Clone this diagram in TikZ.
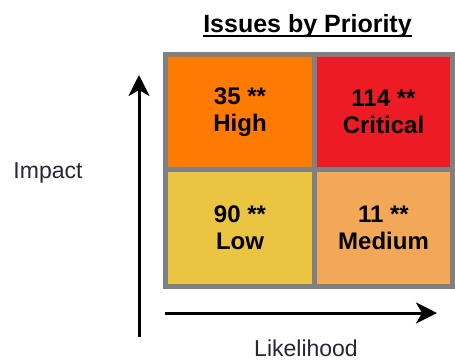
\documentclass[tikz,border=0pt]{standalone}
\usepackage{fontspec}
\setmainfont{Liberation Sans}
\usetikzlibrary{arrows.meta,calc}
\definecolor{cHigh}{RGB}{255,122,0}
\definecolor{cCrit}{RGB}{237,27,36}
\definecolor{cLow}{RGB}{235,196,65}
\definecolor{cMed}{RGB}{243,168,87}
\definecolor{cBorder}{RGB}{128,128,128}
\definecolor{cLabel}{RGB}{38,38,52}
\tikzset{
  cell/.style={draw=cBorder, line width=5pt, inner sep=0pt, align=center,
    font=\bfseries\fontsize{24}{27}\selectfont, text=black},
  axislbl/.style={inner sep=0pt, anchor=base, text=cLabel, font=\fontsize{23}{27}\selectfont},
  axisarrow/.style={line width=3pt, -{Stealth[length=21pt,width=21pt,inset=6pt]}}
}
\begin{document}
\begin{tikzpicture}[x=1pt,y=-1pt]
\useasboundingbox (0,0) rectangle (455,360);
% cells
\node[cell, fill=cHigh, minimum width=149pt, minimum height=115pt] (high) at (240,112) {\raisebox{-3pt}{35 **}\\\raisebox{-3pt}{High}};
\node[cell, fill=cCrit, minimum width=138pt, minimum height=115pt] (crit) at (383.5,112) {\raisebox{-3pt}{114 **}\\\raisebox{-3pt}{Critical}};
\node[cell, fill=cLow, minimum width=149pt, minimum height=116.5pt] (low) at (240,227.75) {\raisebox{-3pt}{90 **}\\\raisebox{-3pt}{Low}};
\node[cell, fill=cMed, minimum width=138pt, minimum height=116.5pt] (med) at (383.5,227.75) {\raisebox{-3pt}{11 **}\\\raisebox{-3pt}{Medium}};
% title
\node[inner sep=0pt, anchor=base, font=\bfseries\fontsize{25}{28}\selectfont, text=black] (title) at (307.5,32) {Issues by Priority};
\draw[line width=2pt, black] ($(title.base west)+(0,4)$) -- ($(title.base east)+(0,4)$);
% axis labels
\node[axislbl] (impact) at (48,178) {Impact};
\node[axislbl] (likeli) at (306,356) {Likelihood};
% arrows
\coordinate (vb) at (139,337);
\coordinate (vt) at (139,75);
\coordinate (hl) at (165,313);
\coordinate (hr) at (437,313);
\draw[axisarrow] (vb) -- (vt);
\draw[axisarrow] (hl) -- (hr);
\end{tikzpicture}
\end{document}
